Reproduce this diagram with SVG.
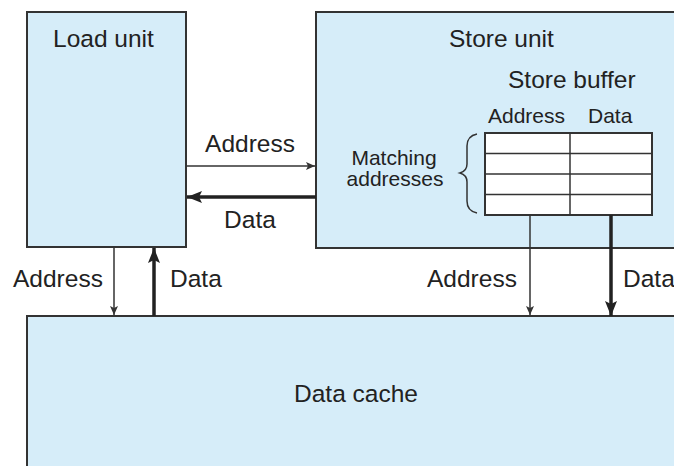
<svg xmlns="http://www.w3.org/2000/svg" width="674" height="466" viewBox="0 0 674 466">
<style>
.box{fill:#d6edf9;stroke:#333;stroke-width:2}
.t{font-family:"Liberation Sans",Arial,sans-serif;fill:#222;font-size:24.5px}
.s{font-size:21px}
.thin{stroke:#333;stroke-width:1.5;fill:none}
.thick{stroke:#222;stroke-width:3.5;fill:none}
.cell{fill:#fff;stroke:#333;stroke-width:2}
</style>
<defs>
<marker id="ah" markerUnits="userSpaceOnUse" markerWidth="10" markerHeight="8" refX="9" refY="4" orient="auto">
<path d="M0,0 L9,4 L0,8 L2,4 Z" fill="#333"/>
</marker>
<marker id="ahb" markerUnits="userSpaceOnUse" markerWidth="16" markerHeight="12" refX="15" refY="6" orient="auto">
<path d="M0,0 L15,6 L0,12 L3,6 Z" fill="#222"/>
</marker>
</defs>
<rect width="674" height="466" fill="#fff"/>
<g id="load-unit">
<rect class="box" x="27" y="12" width="159" height="235"/>
<text class="t" x="53" y="47">Load unit</text>
</g>
<g id="store-unit">
<rect class="box" x="316" y="12" width="370" height="236"/>
<text class="t" x="449" y="47">Store unit</text>
<text class="t" x="508" y="88">Store buffer</text>
<text class="t s" x="488" y="123">Address</text>
<text class="t s" x="588" y="123">Data</text>
<text class="t s" x="394" y="165" text-anchor="middle">Matching</text>
<text class="t s" x="395" y="186" text-anchor="middle">addresses</text>
<path class="thin" d="M477,134 Q467,136 467,146 L467,164 Q467,171 460,173 Q467,175 467,182 L467,201 Q467,211 477,213"/>
<g id="store-buffer">
<rect class="cell" x="485" y="133" width="167" height="82"/>
<line class="thin" stroke-width="2" x1="485" y1="153.5" x2="652" y2="153.5"/>
<line class="thin" stroke-width="2" x1="485" y1="174" x2="652" y2="174"/>
<line class="thin" stroke-width="2" x1="485" y1="194.5" x2="652" y2="194.5"/>
<line class="thin" stroke-width="2" x1="570" y1="133" x2="570" y2="215"/>
</g>
</g>
<g id="data-cache">
<rect class="box" x="27" y="316" width="660" height="170"/>
<text class="t" x="356" y="402" text-anchor="middle">Data cache</text>
</g>
<g id="connectors">
<line class="thin" x1="186" y1="166" x2="315" y2="166" marker-end="url(#ah)"/>
<line class="thick" x1="316" y1="197" x2="187" y2="197" marker-end="url(#ahb)"/>
<line class="thin" x1="114" y1="247" x2="114" y2="315" marker-end="url(#ah)"/>
<line class="thick" x1="154" y1="316" x2="154" y2="248" marker-end="url(#ahb)"/>
<line class="thin" x1="530" y1="215" x2="530" y2="315" marker-end="url(#ah)"/>
<line class="thick" x1="611" y1="215" x2="611" y2="316" marker-end="url(#ahb)"/>
</g>
<g id="labels">
<text class="t" x="250" y="152" text-anchor="middle">Address</text>
<text class="t" x="250" y="228" text-anchor="middle">Data</text>
<text class="t" x="13" y="287">Address</text>
<text class="t" x="170" y="287">Data</text>
<text class="t" x="427" y="287">Address</text>
<text class="t" x="623" y="287">Data</text>
</g>
</svg>
